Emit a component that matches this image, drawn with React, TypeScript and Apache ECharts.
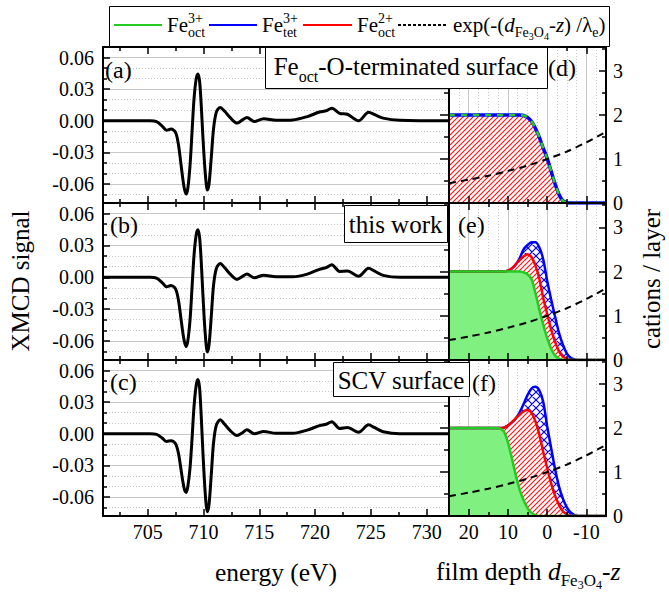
import React, { useEffect, useRef } from "react";
import * as echarts from "echarts";

// ---------------- data ----------------
const energy = [701, 704, 705.2, 705.8, 706.3, 706.7, 707.1, 707.5, 707.75, 707.95, 708.15, 708.3, 708.45, 708.6, 708.8, 708.97, 709.15, 709.35, 709.5, 709.65, 709.8, 709.95, 710.15, 710.35, 710.5, 710.7, 710.9, 711.15, 711.5, 711.9, 712.4, 713.0, 713.5, 713.9, 714.55, 715.4, 716.5, 718.0, 719.3, 720.4, 721.0, 721.5, 722.2, 722.9, 723.9, 724.8, 725.3, 726.1, 727.6, 732];
const xmcdA = [0, 0, 0, -0.0008, -0.005, -0.009, -0.0078, -0.011, -0.022, -0.038, -0.055, -0.065, -0.0695, -0.064, -0.042, -0.012, 0.02, 0.04, 0.0445, 0.038, 0.015, -0.015, -0.048, -0.0657, -0.06, -0.035, -0.008, 0.008, 0.0127, 0.009, 0.003, -0.0022, 0.0008, 0.003, -0.0007, 0.002, 0.0005, 0.0008, 0.004, 0.0083, 0.0095, 0.012, 0.007, 0.0062, 0.0, 0.008, 0.006, 0.0025, 0.0005, 0];
const xmcdB = [0, 0, 0, -0.0008, -0.005, -0.0089, -0.0077, -0.011, -0.021, -0.036, -0.052, -0.061, -0.0654, -0.06, -0.04, -0.011, 0.02, 0.04, 0.0448, 0.038, 0.015, -0.016, -0.052, -0.0705, -0.064, -0.037, -0.008, 0.008, 0.013, 0.009, 0.003, -0.002, 0.0008, 0.003, -0.0005, 0.002, 0.0005, 0.0005, 0.003, 0.0075, 0.009, 0.0118, 0.0055, 0.0058, 0.001, 0.0085, 0.006, 0.0018, 0.0, 0];
const xmcdC = [0, 0, 0, -0.0006, -0.004, -0.0073, -0.0065, -0.0095, -0.018, -0.031, -0.045, -0.053, -0.0556, -0.05, -0.032, -0.006, 0.025, 0.046, 0.0514, 0.044, 0.017, -0.017, -0.055, -0.0739, -0.067, -0.039, -0.009, 0.008, 0.0133, 0.009, 0.003, -0.0016, 0.001, 0.0038, 0.0, 0.0022, 0.0005, 0.0005, 0.0035, 0.0078, 0.009, 0.0115, 0.005, 0.006, 0.0015, 0.0085, 0.006, 0.002, 0.0, 0];

const energyTicks = [705, 710, 715, 720, 725, 730];
const energyMinorTicks = [702.5, 707.5, 712.5, 717.5, 722.5, 727.5];
const xmcdTicks = [-0.06, -0.03, 0, 0.03, 0.06];
const xmcdMinorTicks = [-0.07, -0.05, -0.04, -0.02, -0.01, 0.01, 0.02, 0.04, 0.05];

const depth = [25, 20, 15, 13, 12, 11, 10, 9, 8, 7, 6, 5, 4, 3, 2, 1, 0, -1, -2, -3, -4, -5, -6, -7, -8, -10, -15];
// (d) Fe_oct-O-terminated: all cumulative boundaries coincide
const dBoundary = [2, 2, 2, 2, 2, 2, 2, 2, 2, 2, 1.99, 1.95, 1.86, 1.7, 1.5, 1.25, 1.02, 0.73, 0.44, 0.2, 0.05, 0.01, 0, 0, 0, 0, 0];
// (e) this work (cumulative boundaries)
const eFe3Oct = [2, 2, 2, 2, 2, 2, 2, 2, 2, 2, 1.98, 1.94, 1.83, 1.52, 1.14, 0.8, 0.5, 0.26, 0.1, 0.03, 0, 0, 0, 0, 0, 0, 0];
const eFe2OctTop = [2, 2, 2, 2, 2, 2, 2.02, 2.07, 2.16, 2.26, 2.34, 2.39, 2.33, 2.14, 1.85, 1.4, 1.05, 0.7, 0.42, 0.2, 0.08, 0.02, 0, 0, 0, 0, 0];
const eFe3TetTop = [2, 2, 2, 2, 2, 2, 2.02, 2.07, 2.16, 2.3, 2.5, 2.6, 2.66, 2.66, 2.55, 2.28, 1.8, 1.38, 0.99, 0.62, 0.35, 0.15, 0.05, 0.01, 0, 0, 0];
// (f) SCV surface (cumulative boundaries)
const fFe3Oct = [2, 2, 2, 2, 1.99, 1.92, 1.68, 1.32, 0.93, 0.6, 0.36, 0.18, 0.07, 0.02, 0, 0, 0, 0, 0, 0, 0, 0, 0, 0, 0, 0, 0];
const fFe2OctTop = [2, 2, 2, 2, 2.0, 2.01, 2.06, 2.13, 2.22, 2.31, 2.38, 2.41, 2.35, 2.16, 1.86, 1.46, 1.1, 0.75, 0.47, 0.26, 0.11, 0.04, 0, 0, 0, 0, 0];
const fFe3TetTop = [2, 2, 2, 2, 2.0, 2.01, 2.06, 2.13, 2.22, 2.36, 2.55, 2.75, 2.9, 2.94, 2.86, 2.6, 2.05, 1.56, 1.08, 0.68, 0.4, 0.2, 0.08, 0.02, 0, 0, 0];

const expDepth = [25, 20, 15, 10, 5, 0, -5, -10, -15];
const expValue = [0.45, 0.53, 0.62, 0.73, 0.85, 1.0, 1.17, 1.38, 1.62];

const depthTicks = [20, 10, 0, -10];
const depthMinorTicks = [15, 5, -5];
const depthGridMinor = [22.5, 17.5, 15, 12.5, 7.5, 5, 2.5, -2.5, -5, -7.5, -12.5];
const cationTicks = [0, 1, 2, 3];
const cationMinorTicks = [0.5, 1.5, 2.5, 3.5];

// ---------------- styling ----------------
const FONT = "Liberation Serif";
const GREEN = "#22cc22";
const GREEN_FILL = "#80f080";
const RED = "#ff0000";
const BLUE = "#0000ff";

let mctx: CanvasRenderingContext2D | null = null;
function fontStr(s: number, it = false) {
  return `${it ? "italic" : "normal"} normal ${s}px "${FONT}"`;
}
function tw(t: string, s: number, it = false): number {
  if (!mctx) mctx = document.createElement("canvas").getContext("2d");
  if (!mctx) return t.length * s * 0.5;
  mctx.font = fontStr(s, it);
  return mctx.measureText(t).width;
}

type Seg = { t: string; s: number; dy?: number; it?: boolean; hold?: boolean };
function textEl(t: string, x: number, y: number, s: number, o: any = {}) {
  return {
    type: "text",
    x,
    y,
    z: 100,
    silent: true,
    rotation: o.rot || 0,
    style: {
      text: t,
      font: fontStr(s, o.it),
      fontSize: s,
      fontFamily: FONT,
      fontStyle: o.it ? "italic" : "normal",
      fill: "#000",
      align: o.align || "left",
      verticalAlign: "middle",
    },
  };
}
function row(segs: Seg[], x: number, base: number) {
  const els: any[] = [];
  let cx = x;
  let held = 0;
  for (const g of segs) {
    const w = tw(g.t, g.s, g.it);
    els.push(textEl(g.t, cx, base + (g.dy || 0) - 0.34 * g.s, g.s, { it: g.it }));
    if (g.hold) held = Math.max(held, w);
    else {
      cx += Math.max(w, held);
      held = 0;
    }
  }
  return { els, width: cx - x };
}
function measureRow(segs: Seg[]) {
  let w = 0;
  let held = 0;
  for (const g of segs) {
    const ww = tw(g.t, g.s, g.it);
    if (g.hold) held = Math.max(held, ww);
    else {
      w += Math.max(ww, held);
      held = 0;
    }
  }
  return w;
}
function rectEl(x: number, y: number, w: number, h: number) {
  return {
    type: "rect",
    z: 99,
    silent: true,
    shape: { x: Math.round(x) + 0.5, y: Math.round(y) + 0.5, width: Math.round(w), height: Math.round(h) },
    style: { fill: "#fff", stroke: "#000", lineWidth: 1 },
  };
}
function lineEl(x1: number, x2: number, y: number, color: string, dash?: number[]) {
  return {
    type: "line",
    z: 100,
    silent: true,
    shape: { x1, y1: y, x2, y2: y },
    style: { stroke: color, lineWidth: 2, lineDash: dash || null },
  };
}

function makePattern(kind: "hatch" | "cross") {
  const p = kind === "hatch" ? 5 : 8;
  const color = kind === "hatch" ? "#ff1010" : "#0000ff";
  let d = `M-1 ${p + 1} L${p + 1} -1 M-1 1 L1 -1 M${p - 1} ${p + 1} L${p + 1} ${p - 1}`;
  if (kind === "cross") d += ` M-1 -1 L${p + 1} ${p + 1} M${p - 1} -1 L${p + 1} 1 M-1 ${p - 1} L1 ${p + 1}`;
  const svg = `<svg xmlns='http://www.w3.org/2000/svg' width='${p}' height='${p}'><rect width='${p}' height='${p}' fill='#ffffff'/><path d='${d}' stroke='${color}' stroke-width='${kind === "hatch" ? 1.1 : 1.2}' fill='none'/></svg>`;
  const url = "data:image/svg+xml;charset=utf-8," + encodeURIComponent(svg);
  return { image: url, repeat: "repeat", imageWidth: p, imageHeight: p };
}

const pairs = (xs: number[], ys: number[]) => xs.map((x, i) => [x, ys[i]]);

function buildOption() {
  const redHatch = makePattern("hatch");
  const blueCross = makePattern("cross");

  const tops = [47, 203, 360];
  const heights = [156, 157, 156];
  const grid: any[] = [];
  for (let i = 0; i < 3; i++)
    grid.push({ left: 103, top: tops[i], width: 346, height: heights[i], containLabel: false, outerBoundsMode: "none", show: false });
  for (let i = 0; i < 3; i++)
    grid.push({ left: 449, top: tops[i], width: 157, height: heights[i], containLabel: false, outerBoundsMode: "none", show: false });

  const xAxis: any[] = [];
  const yAxis: any[] = [];
  const series: any[] = [];
  const lineOn = { show: true, onZero: false, lineStyle: { color: "#000", width: 2 } };
  const noLine = { show: false, onZero: false };
  const tickLine = { color: "#000", width: 1.5 };
  const base = { type: "value", splitLine: { show: false }, minorTick: { show: false }, minorSplitLine: { show: false } };
  const addX = (o: any) => {
    xAxis.push({ ...base, axisLabel: { show: false }, ...o });
    return xAxis.length - 1;
  };
  const addY = (o: any) => {
    yAxis.push({ ...base, axisLabel: { show: false }, ...o });
    return yAxis.length - 1;
  };
  const lab = (show: boolean, values: number[], extra: any = {}) => ({
    show,
    customValues: values,
    fontSize: 20,
    fontFamily: FONT,
    color: "#000",
    margin: 6,
    ...extra,
  });

  const spectra = [xmcdA, xmcdB, xmcdC];
  for (let i = 0; i < 3; i++) {
    const g = i;
    const bottom = i === 2;
    const ex = { gridIndex: g, min: 701, max: 732 };
    const xm = addX({ ...ex, position: "bottom", z: 10, axisLine: lineOn, axisTick: { show: true, inside: true, length: 7, customValues: energyTicks, lineStyle: tickLine }, axisLabel: lab(bottom, energyTicks) });
    addX({ ...ex, position: "bottom", z: 10, axisLine: noLine, axisTick: { show: true, inside: true, length: 4, customValues: energyMinorTicks, lineStyle: tickLine } });
    addX({ ...ex, position: "top", z: 10, axisLine: lineOn, axisTick: { show: true, inside: true, length: 7, customValues: energyTicks, lineStyle: tickLine } });
    addX({ ...ex, position: "top", z: 10, axisLine: noLine, axisTick: { show: true, inside: true, length: 4, customValues: energyMinorTicks, lineStyle: tickLine } });
    const ey = { gridIndex: g, min: -0.078, max: 0.07 };
    const ym = addY({ ...ey, position: "left", z: 10, axisLine: lineOn, axisTick: { show: true, inside: true, length: 7, customValues: xmcdTicks, lineStyle: tickLine }, axisLabel: lab(true, xmcdTicks, { margin: 9, formatter: (v: number) => v.toFixed(2) }) });
    addY({ ...ey, position: "left", z: 10, axisLine: noLine, axisTick: { show: true, inside: true, length: 4, customValues: xmcdMinorTicks, lineStyle: tickLine } });
    addY({ ...ey, position: "left", z: 0, axisLine: noLine, axisTick: { show: false, customValues: xmcdTicks }, splitLine: { show: true, lineStyle: { color: "#c8c8c8", width: 1, type: "solid" } } });
    addY({ ...ey, position: "left", z: 0, axisLine: noLine, axisTick: { show: false, customValues: xmcdMinorTicks }, splitLine: { show: true, lineStyle: { color: "#c4c4c4", width: 1, type: [1, 2] } } });
    series.push({
      type: "line",
      xAxisIndex: xm,
      yAxisIndex: ym,
      data: pairs(energy, spectra[i]),
      symbol: "none",
      showSymbol: false,
      smooth: 0.3,
      lineStyle: { color: "#000", width: 3 },
      z: 5,
    });
  }

  const rightSets = [
    { green: dBoundary, red: dBoundary, blue: dBoundary, d: true },
    { green: eFe3Oct, red: eFe2OctTop, blue: eFe3TetTop, d: false },
    { green: fFe3Oct, red: fFe2OctTop, blue: fFe3TetTop, d: false },
  ];
  for (let i = 0; i < 3; i++) {
    const g = 3 + i;
    const bottom = i === 2;
    const ex = { gridIndex: g, min: -15, max: 25, inverse: true };
    const xm = addX({ ...ex, position: "bottom", z: 10, axisLine: lineOn, axisTick: { show: true, inside: true, length: 7, customValues: depthTicks, lineStyle: tickLine }, axisLabel: lab(bottom, depthTicks) });
    addX({ ...ex, position: "bottom", z: 10, axisLine: noLine, axisTick: { show: true, inside: true, length: 4, customValues: depthMinorTicks, lineStyle: tickLine } });
    addX({ ...ex, position: "top", z: 10, axisLine: lineOn, axisTick: { show: true, inside: true, length: 7, customValues: depthTicks, lineStyle: tickLine } });
    addX({ ...ex, position: "top", z: 10, axisLine: noLine, axisTick: { show: true, inside: true, length: 4, customValues: depthMinorTicks, lineStyle: tickLine } });
    addX({ ...ex, position: "bottom", z: 0, axisLine: noLine, axisTick: { show: false, customValues: depthTicks }, splitLine: { show: true, lineStyle: { color: "#c8c8c8", width: 1, type: "solid" } } });
    addX({ ...ex, position: "bottom", z: 0, axisLine: noLine, axisTick: { show: false, customValues: depthGridMinor }, splitLine: { show: true, lineStyle: { color: "#c4c4c4", width: 1, type: [1, 2] } } });
    const ey = { gridIndex: g, min: 0, max: 3.55 };
    const ym = addY({ ...ey, position: "right", z: 10, axisLine: lineOn, axisTick: { show: true, inside: true, length: 7, customValues: cationTicks, lineStyle: tickLine }, axisLabel: lab(true, cationTicks, { margin: 7 }) });
    addY({ ...ey, position: "right", z: 10, axisLine: noLine, axisTick: { show: true, inside: true, length: 4, customValues: cationMinorTicks, lineStyle: tickLine } });
    addY({ ...ey, position: "left", z: 10, axisLine: lineOn, axisTick: { show: true, inside: false, length: 9, customValues: cationTicks, lineStyle: tickLine } });
    addY({ ...ey, position: "left", z: 10, axisLine: noLine, axisTick: { show: true, inside: false, length: 5, customValues: cationMinorTicks, lineStyle: tickLine } });

    const set = rightSets[i];
    const common = { type: "line", xAxisIndex: xm, yAxisIndex: ym, symbol: "none", showSymbol: false, smooth: 0.3 };
    if (set.d) {
      series.push({ ...common, data: pairs(depth, set.red), lineStyle: { color: RED, width: 1.5 }, areaStyle: { color: redHatch, opacity: 1 } });
      series.push({ ...common, data: pairs(depth, set.blue), lineStyle: { color: BLUE, width: 3.5 } });
      series.push({ ...common, data: pairs(depth, set.green), lineStyle: { color: GREEN, width: 2.5, type: [6, 6] } });
    } else {
      series.push({ ...common, data: pairs(depth, set.blue), lineStyle: { color: BLUE, width: 2.5 }, areaStyle: { color: blueCross, opacity: 1 } });
      series.push({ ...common, data: pairs(depth, set.red), lineStyle: { color: RED, width: 2.5 }, areaStyle: { color: redHatch, opacity: 1 } });
      series.push({ ...common, data: pairs(depth, set.green), lineStyle: { color: GREEN, width: 2.5 }, areaStyle: { color: GREEN_FILL, opacity: 1 } });
    }
    series.push({ ...common, data: pairs(expDepth, expValue), lineStyle: { color: "#000", width: 2, type: [7, 5] } });
  }

  // ---------------- graphic: legend, labels, titles ----------------
  const els: any[] = [];
  els.push(rectEl(109, 6, 500, 40));
  const LB = 32;
  const LM = 21;
  const LS = 14;
  const feLabel = (ox: string, sup: string, sub: string): Seg[] => [
    { t: ox, s: LM },
    { t: sup, s: LS, dy: -9, hold: true },
    { t: sub, s: LS, dy: 5 },
  ];
  els.push(lineEl(114, 162, 25, GREEN));
  els.push(...row(feLabel("Fe", "3+", "oct"), 167, LB).els);
  els.push(lineEl(209, 257, 25, BLUE));
  els.push(...row(feLabel("Fe", "3+", "tet"), 262, LB).els);
  els.push(lineEl(303, 352, 25, RED));
  els.push(...row(feLabel("Fe", "2+", "oct"), 357, LB).els);
  els.push(lineEl(398, 448, 25, "#000", [3, 2]));
  els.push(
    ...row(
      [
        { t: "exp(-(", s: LM },
        { t: "d", s: LM, it: true },
        { t: "Fe", s: LS, dy: 5 },
        { t: "3", s: 10, dy: 8 },
        { t: "O", s: LS, dy: 5 },
        { t: "4", s: 10, dy: 8 },
        { t: "-", s: LM },
        { t: "z", s: LM, it: true },
        { t: ") /", s: LM },
        { t: "λ", s: LM },
        { t: "e", s: LS, dy: 5 },
        { t: ")", s: LM },
      ],
      453,
      LB
    ).els
  );

  const s1: Seg[] = [
    { t: "Fe", s: 25 },
    { t: "oct", s: 16, dy: 7 },
    { t: "-O-terminated surface", s: 25 },
  ];
  const w1 = measureRow(s1);
  els.push(rectEl(265, 47, 282, 41));
  els.push(...row(s1, 265 + (282 - w1) / 2, 75).els);

  const w2 = tw("this work", 25) + 9;
  els.push(rectEl(447 - w2, 205, w2, 37));
  els.push(textEl("this work", 447 - w2 / 2, 224, 25, { align: "center" }));

  const w3 = tw("SCV surface", 25) + 9;
  els.push(rectEl(469 - w3, 362, w3, 34));
  els.push(textEl("SCV surface", 469 - w3 / 2, 380, 25, { align: "center" }));

  els.push(textEl("(a)", 105, 70, 24));
  els.push(textEl("(b)", 110, 225, 24));
  els.push(textEl("(c)", 110, 382, 24));
  els.push(textEl("(d)", 548, 68, 24));
  els.push(textEl("(e)", 458, 225, 24));
  els.push(textEl("(f)", 472, 383, 24));

  els.push(textEl("XMCD signal", 20, 281, 25, { rot: Math.PI / 2, align: "center" }));
  els.push(textEl("cations / layer", 651, 279, 25, { rot: Math.PI / 2, align: "center" }));
  els.push(textEl("energy (eV)", 276, 572, 25.5, { align: "center" }));
  els.push(
    ...row(
      [
        { t: "film depth ", s: 25.5 },
        { t: "d", s: 25.5, it: true },
        { t: "Fe", s: 17, dy: 6 },
        { t: "3", s: 12, dy: 9 },
        { t: "O", s: 17, dy: 6 },
        { t: "4", s: 12, dy: 9 },
        { t: "-", s: 25.5 },
        { t: "z", s: 25.5, it: true },
      ],
      436,
      580
    ).els
  );

  return {
    animation: false,
    backgroundColor: "#ffffff",
    textStyle: { fontFamily: FONT },
    grid,
    xAxis,
    yAxis,
    series,
    graphic: { elements: els },
  };
}

export default function App() {
  const ref = useRef<HTMLDivElement>(null);
  useEffect(() => {
    if (!ref.current) return;
    const chart = echarts.init(ref.current, undefined, { renderer: "svg" });
    chart.setOption(buildOption() as any);
    return () => chart.dispose();
  }, []);
  return (
    <div
      ref={ref}
      style={{ position: "absolute", left: 0, top: 0, width: 669, height: 593, background: "#fff" }}
    />
  );
}
